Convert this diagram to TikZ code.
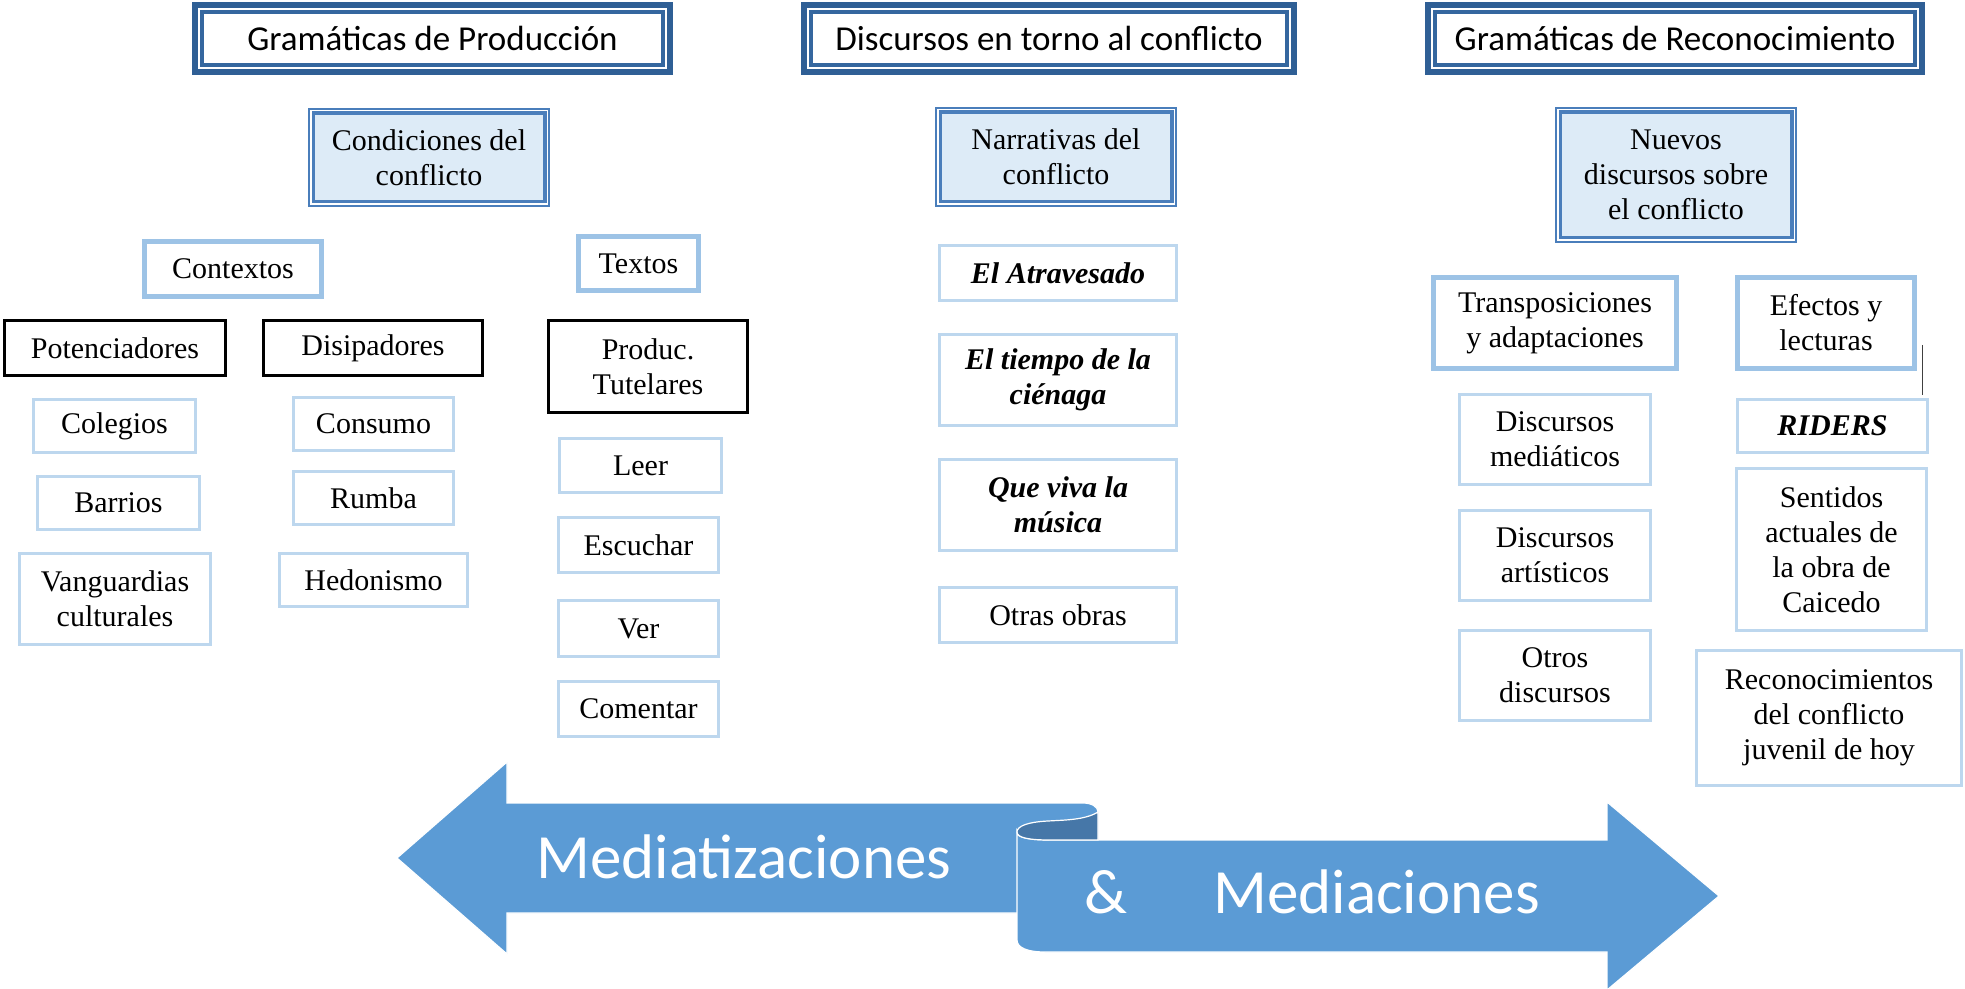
\documentclass[tikz,border=0pt]{standalone}
\usepackage{fontspec}
\setmainfont{Liberation Serif}
\newfontfamily\calfont{Carlito}
\definecolor{arrowblue}{HTML}{5B9BD5}
\definecolor{curldark}{HTML}{4677A8}
\definecolor{thickc}{HTML}{9DC3E6}
\definecolor{leafc}{HTML}{BDD7EE}
\definecolor{hdrblue}{HTML}{2F5F95}
\definecolor{hdrinner}{HTML}{35679F}
\definecolor{condc}{HTML}{4A7EBB}
\definecolor{condfill}{HTML}{DDEBF7}
\newcommand\bodyfont{\fontsize{15}{17.5}\selectfont}
\newcommand\hdrfont{\calfont\fontsize{17.5}{21}\selectfont}
\newcommand\arrfont{\calfont\fontsize{31.5}{36}\selectfont}
\begin{document}
\begin{tikzpicture}[x=0.5pt,y=-0.5pt,
  wh/.style n args={3}{minimum width={(#1-#3)*0.5pt}, minimum height={(#2-#3)*0.5pt}},
  base/.style={rectangle, inner sep=0pt, align=center, font=\bodyfont},
  leaf/.style={base, draw=leafc, line width=1.5pt},
  thickbox/.style={base, draw=thickc, line width=2.5pt},
  blackbox/.style={base, draw=black, line width=1.7pt},
  condbox/.style={base, draw=condc, fill=white, line width=1pt,
    path picture={\draw[condc, fill=condfill, line width=1.7pt]
      ([shift={(2.1pt,2.1pt)}]path picture bounding box.south west) rectangle
      ([shift={(-2.1pt,-2.1pt)}]path picture bounding box.north east);}},
  hdr/.style={rectangle, inner sep=0pt, align=center, font=\hdrfont, draw=hdrblue, line width=3pt, fill=white,
    path picture={\draw[hdrinner, line width=1.8pt]
      ([shift={(3.4pt,3.4pt)}]path picture bounding box.south west) rectangle
      ([shift={(-3.4pt,-3.4pt)}]path picture bounding box.north east);}},
  arrowtext/.style={inner sep=0pt, text=white, font=\arrfont},
  ribbon/.style={draw=white, line width=0.6pt},
  bi/.style={font=\bodyfont\bfseries\itshape}
]
\useasboundingbox (0,0) rectangle (1965,989);

% ---- ribbon arrow ----
\path[ribbon, fill=arrowblue] (397,858) -- (507,762) -- (507,803) -- (1083,803)
  .. controls (1092,803) and (1098,807) .. (1098,812) -- (1098,913) -- (507,913) -- (507,954) -- cycle;
\path[ribbon, fill=arrowblue] (1017,832) .. controls (1017,838) and (1030,840) .. (1050,840)
  -- (1607,840) -- (1607,802) -- (1719,896) -- (1607,990) -- (1607,952) -- (1045,952)
  .. controls (1028,952) and (1017,948) .. (1017,940) -- cycle;
\path[ribbon, fill=curldark] (1098,812) .. controls (1085,820) and (1065,820) .. (1048,821)
  .. controls (1028,822) and (1017,826) .. (1017,832)
  .. controls (1017,838) and (1030,840) .. (1050,840) -- (1098,840) -- cycle;
\node[arrowtext, anchor=base west] (med1) at (536,878) {Mediatizaciones};
\node[arrowtext, anchor=base west] (amp) at (1084,913) {\&};
\node[arrowtext, anchor=base west] (med2) at (1213,913) {Mediaciones};

% ---- headers ----
\node[hdr, wh={481}{73}{6}] (h1) at (432.5,38.5) {Gramáticas de Producción};
\node[hdr, wh={496}{73}{6}] (h2) at (1049,38.5) {Discursos en torno al conflicto};
\node[hdr, wh={500}{73}{6}] (h3) at (1675,38.5) {Gramáticas de Reconocimiento};

% ---- second level ----
\node[condbox, wh={242}{99}{2}] (cond) at (429,157.5) {Condiciones del\\conflicto};
\node[condbox, wh={242}{100}{2}] (narr) at (1056,157) {Narrativas del\\conflicto};
\node[condbox, wh={242}{136}{2}] (nuev) at (1676,175) {Nuevos\\discursos sobre\\el conflicto};

% ---- column 1 ----
\node[thickbox, wh={182}{60}{5}] (ctx) at (233,269) {Contextos};
\node[blackbox, wh={224}{58}{3.4}] (pot) at (115,348) {Potenciadores};
\node[blackbox, wh={222}{58}{3.4}] (dis) at (373,348) {Disipadores};
\node[leaf, wh={165}{56}{3}] (col) at (114.5,426) {Colegios};
\node[leaf, wh={165}{56}{3}] (bar) at (118.5,503) {Barrios};
\node[leaf, wh={194}{94}{3}] (van) at (115,599) {Vanguardias\\culturales};
\node[leaf, wh={163}{56}{3}] (con) at (373.5,424) {Consumo};
\node[leaf, wh={163}{56}{3}] (rum) at (373.5,498) {Rumba};
\node[leaf, wh={191}{56}{3}] (hed) at (373.5,580) {Hedonismo};

% ---- textos column ----
\node[thickbox, wh={125}{59}{5}] (tex) at (638.5,263.5) {Textos};
\node[blackbox, wh={202}{95}{3.4}] (pro) at (648,366.5) {Produc.\\Tutelares};
\node[leaf, wh={165}{57}{3}] (lee) at (640.5,465.5) {Leer};
\node[leaf, wh={163}{58}{3}] (esc) at (638.5,545) {Escuchar};
\node[leaf, wh={163}{59}{3}] (ver) at (638.5,628.5) {Ver};
\node[leaf, wh={163}{58}{3}] (com) at (638.5,709) {Comentar};

% ---- middle column ----
\node[leaf, bi, wh={240}{58}{3}] (atr) at (1058,273) {El Atravesado};
\node[leaf, bi, wh={240}{94}{3}] (tie) at (1058,380) {El tiempo de la\\ciénaga};
\node[leaf, bi, wh={240}{94}{3}] (que) at (1058,505) {Que viva la\\música};
\node[leaf, wh={240}{58}{3}] (otr) at (1058,615) {Otras obras};

% ---- right columns ----
\node[thickbox, wh={248}{96}{5}] (tra) at (1555,323) {Transposiciones\\y adaptaciones};
\node[thickbox, wh={182}{96}{5}] (efe) at (1826,323) {Efectos y\\lecturas};
\node[leaf, wh={194}{93}{3}] (dme) at (1555,439.5) {Discursos\\mediáticos};
\node[leaf, wh={194}{93}{3}] (dar) at (1555,555.5) {Discursos\\artísticos};
\node[leaf, wh={194}{93}{3}] (dot) at (1555,675.5) {Otros\\discursos};
\node[leaf, bi, wh={193}{56}{3}] (rid) at (1832.5,426) {RIDERS};
\node[leaf, wh={193}{165}{3}] (sen) at (1831.5,549.5) {Sentidos\\actuales de\\la obra de\\Caicedo};
\node[leaf, wh={268}{138}{3}] (rec) at (1829,718) {Reconocimientos\\del conflicto\\juvenil de hoy};

% ---- stray line ----
\coordinate (s1) at (1922,345);
\coordinate (s2) at (1922,395);
\draw[black!75, line width=0.5pt] (s1) -- (s2);
\end{tikzpicture}
\end{document}
